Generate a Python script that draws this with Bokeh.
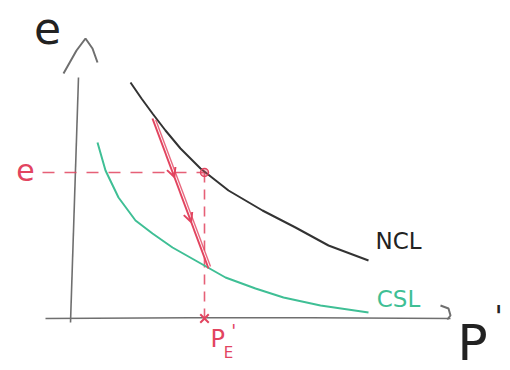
from bokeh.plotting import figure
from bokeh.models import Range1d, Arrow, OpenHead
from bokeh.core.properties import value
from bokeh.embed import file_html
from bokeh.resources import INLINE

# Schematic e - p' diagram (arbitrary units): normal compression line,
# critical state line and an undrained path from the NCL to the CSL.
ncl_p = [1.5, 1.775, 2.05, 2.375, 2.75, 3.25, 3.95, 4.8, 5.625, 6.45, 7.45]
ncl_e = [5.9, 5.5, 5.125, 4.7, 4.25, 3.75, 3.2, 2.7, 2.275, 1.825, 1.45]

csl_p = [0.675, 0.875, 1.2, 1.625, 2.05, 2.55, 3.125, 3.875, 4.625, 5.325, 6.25, 7.45]
csl_e = [4.4, 3.7, 3.025, 2.45, 2.125, 1.775, 1.45, 1.025, 0.75, 0.525, 0.325, 0.15]

# undrained path (drawn twice, slightly offset, as a pen stroke)
path_p = [2.05, 3.45]
path_e = [5.0, 1.25]
path2_p = [2.13, 3.5]
path2_e = [4.97, 1.3]

# equivalent state: void ratio e on the NCL and its pressure p'_E
eq_p = 3.35
eq_e = 3.65

# axes of the sketch
yaxis_p = [0.0, 0.2]
yaxis_e = [-0.1, 6.025]
ycaret_p = [-0.175, 0.15, 0.375, 0.55, 0.675]
ycaret_e = [6.125, 6.7, 7.0, 6.75, 6.4]
xaxis_p = [-0.625, 3.0, 6.0, 9.5]
xaxis_e = [0.0, 0.02, 0.02, 0.0]
xhook_p = [9.25, 9.45, 9.5, 9.42]
xhook_e = [0.325, 0.25, 0.075, -0.025]

GRAY = "#6f6f6f"
INK = "#333333"
GREEN = "#3fbf95"
RED = "#e2445f"

p = figure(width=510, height=370, output_backend="svg", toolbar_location=None,
           x_range=Range1d(-1.75, 11.0), y_range=Range1d(-1.3, 7.95),
           min_border=0, min_border_left=0, min_border_right=0,
           min_border_top=0, min_border_bottom=0)
p.axis.visible = False
p.grid.visible = False
p.outline_line_color = None
p.background_fill_color = "white"
p.border_fill_color = "white"

# axes
p.line(yaxis_p, yaxis_e, line_color=GRAY, line_width=1.6)
p.line(ycaret_p, ycaret_e, line_color=GRAY, line_width=2)
p.line(xaxis_p, xaxis_e, line_color=GRAY, line_width=1.6)
p.line(xhook_p, xhook_e, line_color=GRAY, line_width=2)

# dashed construction lines
p.line([-0.7, eq_p], [eq_e, eq_e], line_color=RED, line_width=1.6,
       line_dash="12 10", line_alpha=0.85)
p.line([eq_p, eq_p], [eq_e, 0.0], line_color=RED, line_width=1.6,
       line_dash="10 7", line_alpha=0.85)

# NCL and CSL
p.line(ncl_p, ncl_e, line_color=INK, line_width=2)
p.line(csl_p, csl_e, line_color=GREEN, line_width=2)

# undrained path with direction marks
p.line(path_p, path_e, line_color=RED, line_width=2)
p.line(path2_p, path2_e, line_color=RED, line_width=1.4, line_alpha=0.8)
for t in (0.36, 0.66):
    xs = path_p[0] + (path_p[1] - path_p[0]) * t
    ys = path_e[0] + (path_e[1] - path_e[0]) * t
    xe = path_p[0] + (path_p[1] - path_p[0]) * (t + 0.03)
    ye = path_e[0] + (path_e[1] - path_e[0]) * (t + 0.03)
    p.add_layout(Arrow(x_start=xs, y_start=ys, x_end=xe, y_end=ye,
                       line_color=RED, line_width=1.5,
                       end=OpenHead(size=9, line_color=RED, line_width=2)))

p.scatter([eq_p], [eq_e], marker="circle", size=8, fill_color=RED,
          fill_alpha=0.35, line_color=RED, line_width=1.5)
p.scatter([eq_p], [0.0], marker="x", size=12, line_color=RED, line_width=2)

FONT = value("DejaVu Sans")

# labels
p.text([-0.575], [7.275], text=["e"], text_font=FONT, text_font_size="44px",
       text_color="#222222", text_align="center", text_baseline="middle")
p.text([-1.125], [3.725], text=["e"], text_font=FONT, text_font_size="30px",
       text_color=RED, text_align="center", text_baseline="middle")
p.text([8.2], [1.95], text=["NCL"], text_font=FONT, text_font_size="23px",
       text_color="#222222", text_align="center", text_baseline="middle")
p.text([8.2], [0.5], text=["CSL"], text_font=FONT, text_font_size="23px",
       text_color=GREEN, text_align="center", text_baseline="middle")
p.text([10.05], [-0.6], text=["P"], text_font=FONT, text_font_size="50px",
       text_color="#222222", text_align="center", text_baseline="middle")
p.text([10.7], [0.05], text=["'"], text_font=FONT, text_font_size="30px",
       text_color="#222222", text_align="center", text_baseline="middle")
p.text([3.68], [-0.5], text=["P"], text_font=FONT, text_font_size="24px",
       text_color=RED, text_align="center", text_baseline="middle")
p.text([3.95], [-0.87], text=["E"], text_font=FONT, text_font_size="15px",
       text_color=RED, text_align="center", text_baseline="middle")
p.text([4.08], [-0.3], text=["'"], text_font=FONT, text_font_size="18px",
       text_color=RED, text_align="center", text_baseline="middle")

open("out.html", "w").write(file_html(p, INLINE))
